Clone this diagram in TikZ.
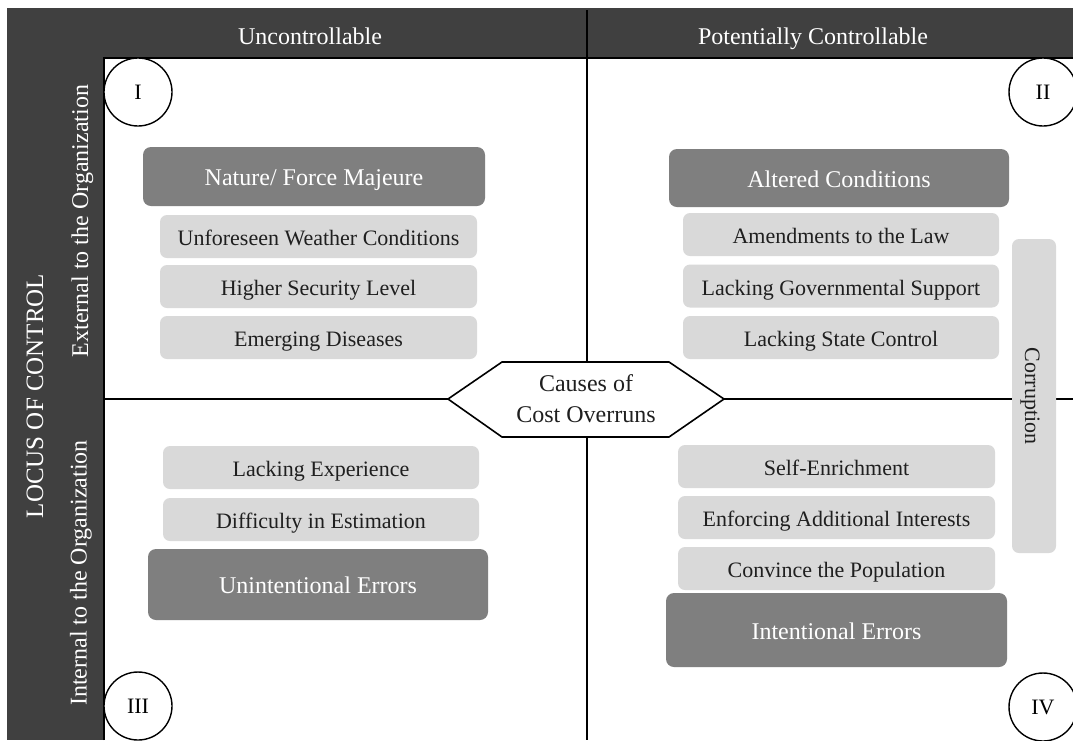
\documentclass[tikz,border=0pt]{standalone}
\usepackage{fontspec}
\setmainfont{Liberation Serif}
\begin{document}
\begin{tikzpicture}[x=1pt,y=-1pt,
  band/.style={fill=bandgray,draw=none},
  fixtext/.style={text height=18pt,text depth=0pt},
  darkbox/.style={fill=boxdark,draw=none,rounded corners=8pt,text=white,
    font=\fontsize{24}{28}\selectfont,inner sep=0pt,text height=18.4pt,text depth=0pt},
  lightbox/.style={fill=boxlight,draw=none,rounded corners=7pt,text=txt,
    font=\fontsize{22}{26}\selectfont,inner sep=0pt,minimum width=317pt,minimum height=43pt,fixtext},
  headtext/.style={text=white,font=\fontsize{24}{28}\selectfont,inner sep=0pt,fixtext},
  roman/.style={circle,draw=black,line width=1.4pt,fill=white,minimum size=68pt,
    inner sep=0pt,font=\fontsize{22}{26}\selectfont,text height=14.6pt,text depth=0pt},
  axis/.style={draw=black,line width=1.8pt}
]
\definecolor{bandgray}{HTML}{404040}
\definecolor{boxdark}{HTML}{7F7F7F}
\definecolor{boxlight}{HTML}{D9D9D9}
\definecolor{txt}{HTML}{1F1F1F}
\useasboundingbox (0,0) rectangle (1073,740);
\fill[white] (0,0) rectangle (1073,740);
% frame bands
\fill[band] (7,8) rectangle (1073,740);
\fill[white] (104,58) rectangle (1073,740);
\draw[black,line width=1.2pt] (104,740) -- (104,58) -- (1073,58);
% coordinates for axes
\coordinate (vtop) at (587,10);
\coordinate (vbot) at (587,740);
\coordinate (hleft) at (104,399);
\coordinate (hright) at (1073,399);
\draw[axis] (vtop) -- (vbot);
\draw[axis] (hleft) -- (hright);
% headers
\node[headtext] (hU) at (310,35) {Uncontrollable};
\node[headtext] (hP) at (813,35) {Potentially Controllable};
\node[headtext,rotate=90,font=\fontsize{25}{28}\selectfont] (loc) at (34,396) {LOCUS OF CONTROL};
\node[headtext,rotate=90] (ext) at (79,221) {External to the Organization};
\node[headtext,rotate=90] (int) at (77.5,573) {Internal to the Organization};
% centre hexagon
\fill[white,draw=black,line width=1.6pt] (448,399) -- (502,362) -- (669,362) -- (724,399) -- (669,437) -- (502,437) -- cycle;
\node[align=center,font=\fontsize{24}{31}\selectfont,text=txt] (hex) at (586,399) {Causes of\\Cost Overruns};
% quadrant I
\node[darkbox,minimum width=342pt,minimum height=59pt] (nat) at (314,176.5) {Nature/ Force Majeure};
\node[lightbox] (unf) at (318.5,236.5) {Unforeseen Weather Conditions};
\node[lightbox] (sec) at (318.5,286.5) {Higher Security Level};
\node[lightbox] (dis) at (318.5,337.5) {Emerging Diseases};
% quadrant II
\node[darkbox,minimum width=340pt,minimum height=58pt] (alt) at (839,178) {Altered Conditions};
\node[lightbox,minimum width=316pt] (law) at (841,234.5) {Amendments to the Law};
\node[lightbox,minimum width=316pt] (gov) at (841,286) {Lacking Governmental Support};
\node[lightbox,minimum width=316pt] (sta) at (841,337.5) {Lacking State Control};
% quadrant III
\node[lightbox,minimum width=316pt] (exp) at (321,467.5) {Lacking Experience};
\node[lightbox,minimum width=316pt] (est) at (321,519.5) {Difficulty in Estimation};
\node[darkbox,minimum width=340pt,minimum height=71pt] (une) at (318,584.5) {Unintentional Errors};
% quadrant IV
\node[lightbox] (enr) at (836.5,466.5) {Self-Enrichment};
\node[lightbox] (enf) at (836.5,517.5) {Enforcing Additional Interests};
\node[lightbox] (pop) at (836.5,568.5) {Convince the Population};
\node[darkbox,minimum width=341pt,minimum height=74pt] (ine) at (836.5,630) {Intentional Errors};
% corruption
\node[fill=boxlight,rounded corners=7pt,minimum width=44pt,minimum height=314pt,inner sep=0pt] (corbox) at (1034,396) {};
\node[rotate=-90,text=txt,font=\fontsize{22}{26}\selectfont,inner sep=0pt,fixtext] (cor) at (corbox.center) {Corruption};
% roman numerals
\node[roman] (q1) at (138,92) {I};
\node[roman] (q2) at (1043,92) {II};
\node[roman] (q3) at (138,706) {III};
\node[roman] (q4) at (1043,707) {IV};
\end{tikzpicture}
\end{document}
